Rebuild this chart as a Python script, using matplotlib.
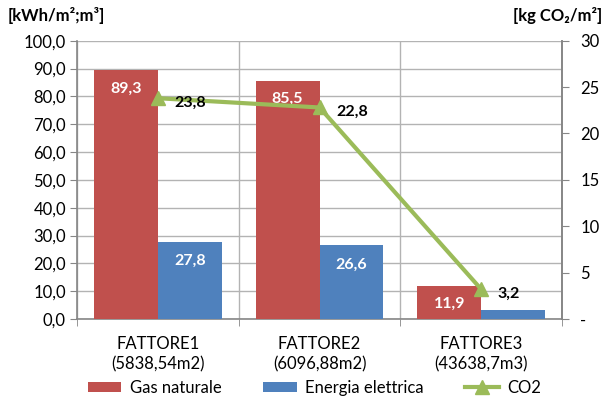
import numpy as np
import matplotlib.pyplot as plt

plt.rcParams['font.family'] = ['Lato', 'DejaVu Sans']

#Data
categories = ["FATTORE1\n(5838,54m2)", "FATTORE2\n(6096,88m2)", "FATTORE3\n(43638,7m3)"]
gas = [89.3, 85.5, 11.9]
elettrica = [27.8, 26.6, 3.4]
co2 = [23.8, 22.8, 3.2]
gas_labels = ["89,3", "85,5", "11,9"]
el_labels = ["27,8", "26,6", ""]
co2_labels = ["23,8", "22,8", "3,2"]

red = "#C0504D"
blue = "#4F81BD"
green = "#9BBB59"
axcol = "#868686"
gridcol = "#B3B3B3"

fig = plt.figure(figsize=(6.07, 4.01), dpi=100)
ax = fig.add_axes([0.1269, 0.2045, 0.7991, 0.694])
ax2 = ax.twinx()

x = np.arange(len(categories))
w = 0.395
b1 = ax.bar(x - w/2, gas, w, color=red, zorder=3, label="Gas naturale")
b2 = ax.bar(x + w/2, elettrica, w, color=blue, zorder=3, label="Energia elettrica")

#Bar labels inside near top
for xi, v, t in zip(x, gas, gas_labels):
    ax.annotate(t, (xi - w/2, v), xytext=(0, -13), textcoords="offset points",
                ha="center", va="center", color="white", fontsize=11.5, fontweight="bold", zorder=5)
for xi, v, t in zip(x, elettrica, el_labels):
    ax.annotate(t, (xi + w/2, v), xytext=(0, -14), textcoords="offset points",
                ha="center", va="center", color="white", fontsize=11.5, fontweight="bold", zorder=5)

ax.set_xlim(-0.5, 2.5)
ax.set_ylim(0, 100)
ax.set_yticks(np.arange(0, 101, 10))
ax.set_yticklabels(["{:.1f}".format(v).replace(".", ",") for v in np.arange(0, 101, 10)])
ax.yaxis.grid(True, color=gridcol, linewidth=1, zorder=0)
ax.set_xticks(x)
ax.set_xticklabels(categories, linespacing=1.35)
ax.set_xticks([-0.5, 0.5, 1.5, 2.5], minor=True)
ax.tick_params(axis="x", which="major", length=0, labelsize=12, pad=12)
ax.tick_params(axis="x", which="minor", length=5, color=axcol, direction="out")
ax.xaxis.grid(True, which="minor", color=gridcol, linewidth=1, zorder=0)
ax.tick_params(axis="y", length=5, color=axcol, labelsize=12, pad=3)
for s in ["top"]:
    ax.spines[s].set_visible(False)
for s in ["left", "bottom", "right"]:
    ax.spines[s].set_color(axcol)
    ax.spines[s].set_linewidth(1.2)

#CO2 line on right axis
ax2.plot(x, co2, color=green, linewidth=3, marker="^", markersize=10, zorder=6, label="CO2")
for xi, v, t in zip(x, co2, co2_labels):
    ax2.annotate(t, (xi, v), xytext=(12, -3), textcoords="offset points",
                 ha="left", va="center", color="black", fontsize=11.5, fontweight="bold", zorder=8)
ax2.set_ylim(0, 30)
ax2.set_yticks(np.arange(0, 31, 5))
ax2.set_yticklabels(["-"] + [str(v) for v in range(5, 31, 5)])
ax2.tick_params(axis="y", length=5, color=axcol, labelsize=12, pad=8)
for s in ["top", "left", "bottom"]:
    ax2.spines[s].set_visible(False)
ax2.spines["right"].set_color(axcol)
ax2.spines["right"].set_linewidth(1.2)

#Axis titles
fig.text(8/607, 1 - 15/401, "[kWh/m²;m³]", ha="left", va="center", fontsize=12, fontweight="bold")
fig.text(602/607, 1 - 15/401, "[kg CO₂/m²]", ha="right", va="center", fontsize=12, fontweight="bold")

#Legend
h1, l1 = ax.get_legend_handles_labels()
h2, l2 = ax2.get_legend_handles_labels()
fig.legend(h1 + h2, l1 + l2, loc="lower center", bbox_to_anchor=(0.518, -0.025), ncol=3,
           frameon=False, fontsize=12, handlelength=2.0, handleheight=0.6, columnspacing=2.5,
           handletextpad=0.5)

fig.savefig("out.png", dpi=100)
